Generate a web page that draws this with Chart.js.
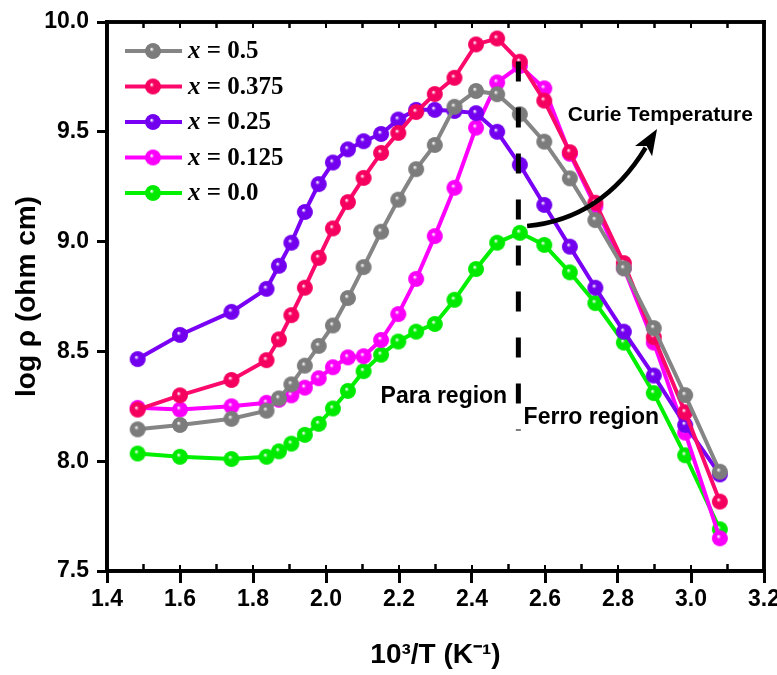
<!DOCTYPE html>
<html><head><meta charset="utf-8">
<script src="https://cdn.jsdelivr.net/npm/chart.js@4/dist/chart.umd.min.js"></script>
<style>html,body{margin:0;padding:0;background:#fff;}#wrap{position:relative;width:777px;height:675px}canvas{display:block}#ov{position:absolute;left:0;top:0;pointer-events:none}</style>
</head><body>
<div id="wrap">
<canvas id="c" width="777" height="675"></canvas>
<canvas id="ov" width="777" height="675"></canvas>
</div>
<script>
// 10^3/T values (K^-1)
const invT = [1.484, 1.600, 1.741, 1.837, 1.871, 1.905, 1.942, 1.980, 2.019, 2.060, 2.103, 2.151, 2.198, 2.247, 2.298, 2.352, 2.411, 2.469, 2.531, 2.598, 2.668, 2.738, 2.816, 2.898, 2.984, 3.079];
// log rho series
const rho_x050  = [8.145, 8.165, 8.193, 8.230, 8.286, 8.350, 8.435, 8.525, 8.618, 8.743, 8.884, 9.045, 9.191, 9.330, 9.440, 9.614, 9.686, 9.671, 9.580, 9.455, 9.288, 9.098, 8.878, 8.606, 8.301, 7.952];
const rho_x0375 = [8.235, 8.300, 8.370, 8.460, 8.555, 8.665, 8.790, 8.926, 9.060, 9.180, 9.290, 9.404, 9.495, 9.590, 9.672, 9.746, 9.898, 9.925, 9.819, 9.642, 9.407, 9.177, 8.902, 8.565, 8.223, 7.816];
const rho_x025  = [8.465, 8.575, 8.680, 8.785, 8.890, 8.995, 9.135, 9.262, 9.360, 9.420, 9.457, 9.490, 9.556, 9.600, 9.600, 9.595, 9.585, 9.500, 9.350, 9.167, 8.977, 8.790, 8.590, 8.390, 8.165, 7.940];
const rho_x0125 = [8.243, 8.235, 8.250, 8.266, 8.280, 8.300, 8.335, 8.378, 8.428, 8.473, 8.478, 8.552, 8.670, 8.830, 9.025, 9.245, 9.519, 9.725, 9.800, 9.698, 9.400, 9.160, 8.880, 8.540, 8.130, 7.649];
const rho_x000  = [8.035, 8.020, 8.010, 8.020, 8.045, 8.080, 8.120, 8.170, 8.240, 8.320, 8.410, 8.485, 8.545, 8.590, 8.625, 8.735, 8.875, 8.995, 9.040, 8.985, 8.860, 8.720, 8.540, 8.310, 8.027, 7.690];
const seriesNames = ['0.5', '0.375', '0.25', '0.125', '0.0'];
const xTicks = [1.4, 1.6, 1.8, 2.0, 2.2, 2.4, 2.6, 2.8, 3.0, 3.2];
const yTicks = [7.5, 8.0, 8.5, 9.0, 9.5, 10.0];
const curieX = 2.527;

const allSeries = [rho_x050, rho_x0375, rho_x025, rho_x0125, rho_x000];
const lineColors = ['#858585', '#fb0a6c', '#7a00f5', '#ff00ff', '#00f000'];
const baseColors = ['#7c7c7c', '#f5005f', '#7200ee', '#fa00fa', '#00ea00'];

function sphere(color) {
  const r = 7.8, s = 18;
  const cv = document.createElement('canvas');
  cv.width = s; cv.height = s;
  const g = cv.getContext('2d');
  const cx = s / 2, cy = s / 2;
  const grad = g.createRadialGradient(cx - 1.5, cy - 2, 0.3, cx, cy, r);
  grad.addColorStop(0, '#ffffff');
  grad.addColorStop(0.28, color + 'cc');
  grad.addColorStop(0.55, color);
  grad.addColorStop(1, color);
  g.fillStyle = color;
  g.beginPath(); g.arc(cx, cy, r, 0, Math.PI * 2); g.fill();
  g.fillStyle = grad;
  g.beginPath(); g.arc(cx, cy, r, 0, Math.PI * 2); g.fill();
  return cv;
}
const markers = baseColors.map(sphere);

const datasets = allSeries.map((arr, i) => ({
  label: 'x = ' + seriesNames[i],
  data: arr.map((v, k) => ({x: invT[k], y: v})),
  borderColor: lineColors[i],
  borderWidth: 4,
  pointStyle: markers[i],
  pointRadius: 7.8,
  tension: 0,
  fill: false
}));

const FONT = "'Liberation Sans', Arial, sans-serif";
const SERIF = "'Liberation Serif', 'Times New Roman', serif";

function seg(ctx, x1, y1, x2, y2) {
  ctx.beginPath(); ctx.moveTo(x1, y1); ctx.lineTo(x2, y2); ctx.stroke();
}

function drawFrame(ctx, x, y) {
  const L0 = x.getPixelForValue(1.4), R0 = x.getPixelForValue(3.2);
  const T0 = y.getPixelForValue(10.0), B0 = y.getPixelForValue(7.5);
  ctx.save();
  ctx.fillStyle = '#000000';
  const fw = 3.5;
  ctx.fillRect(L0 - fw / 2, T0 - fw / 2, R0 - L0 + fw, fw);
  ctx.fillRect(L0 - fw / 2, B0 - fw / 2, R0 - L0 + fw, fw);
  ctx.fillRect(L0 - fw / 2, T0 - fw / 2, fw, B0 - T0 + fw);
  ctx.fillRect(R0 - fw / 2, T0 - fw / 2, fw, B0 - T0 + fw);
  for (let i = 0; i < xTicks.length; i++) {
    const px = x.getPixelForValue(xTicks[i]);
    ctx.fillRect(px - 1, T0, 2, 6);
    ctx.fillRect(px - 1, B0 - 6, 2, 6);
    if (i < xTicks.length - 1) {
      const p2 = x.getPixelForValue((xTicks[i] + xTicks[i + 1]) / 2);
      ctx.fillRect(p2 - 1, T0, 2, 6);
      ctx.fillRect(p2 - 1, B0 - 7, 2, 7);
    }
  }
  ctx.restore();
}

const decor = {
  id: 'decor',
  afterDatasetsDraw(chart) {
    const ctx = chart.ctx, x = chart.scales.x, y = chart.scales.y;
    ctx.save();
    ctx.strokeStyle = '#000000';
    ctx.fillStyle = '#000000';
    // dashed Curie line
    ctx.lineWidth = 5;
    ctx.setLineDash([20, 26]);
    seg(ctx, x.getPixelForValue(curieX), y.getPixelForValue(9.82), x.getPixelForValue(curieX), y.getPixelForValue(8.14));
    ctx.setLineDash([]);
    // arrow
    const p0 = [x.getPixelForValue(2.551), y.getPixelForValue(9.071)];
    const c1 = [x.getPixelForValue(2.757), y.getPixelForValue(9.103)];
    const tip = [x.getPixelForValue(2.907), y.getPixelForValue(9.513)];
    let dx = tip[0] - c1[0], dy = tip[1] - c1[1];
    const L = Math.hypot(dx, dy); dx /= L; dy /= L;
    const hl = 26, hw = 10;
    const base = [tip[0] - hl * dx, tip[1] - hl * dy];
    ctx.lineWidth = 4.5;
    ctx.beginPath();
    ctx.moveTo(p0[0], p0[1]);
    ctx.quadraticCurveTo(c1[0], c1[1], base[0] + 4 * dx, base[1] + 4 * dy);
    ctx.stroke();
    ctx.beginPath();
    ctx.moveTo(tip[0], tip[1]);
    ctx.lineTo(base[0] - hw * dy, base[1] + hw * dx);
    ctx.lineTo(base[0] + 6 * dx, base[1] + 6 * dy);
    ctx.lineTo(base[0] + hw * dy, base[1] - hw * dx);
    ctx.closePath();
    ctx.fill();
    // texts
    ctx.textAlign = 'center';
    ctx.textBaseline = 'middle';
    ctx.font = 'bold 21px ' + FONT;
    ctx.fillText('Curie Temperature', x.getPixelForValue(2.916), y.getPixelForValue(9.577));
    ctx.font = 'bold 23px ' + FONT;
    ctx.fillText('Para region', x.getPixelForValue(2.323), y.getPixelForValue(8.292));
    ctx.fillText('Ferro region', x.getPixelForValue(2.727), y.getPixelForValue(8.197));
    // legend
    const rows = [51, 86.5, 122, 157.5, 193];
    for (let i = 0; i < chart.data.datasets.length; i++) {
      const yy = rows[i];
      ctx.strokeStyle = lineColors[i];
      ctx.lineWidth = 4;
      seg(ctx, 125, yy, 182, yy);
      ctx.drawImage(markers[i], 153 - markers[i].width / 2, yy - markers[i].height / 2);
      ctx.fillStyle = '#000';
      ctx.textAlign = 'left';
      ctx.textBaseline = 'middle';
      ctx.font = 'italic bold 25px ' + SERIF;
      ctx.fillText('x', 188, yy + 1);
      const w = ctx.measureText('x').width;
      ctx.font = 'bold 25px ' + SERIF;
      ctx.fillText(' = ' + seriesNames[i], 188 + w, yy + 1);
    }
    ctx.restore();
  },
  afterDraw(chart) {
    drawFrame(chart.ctx, chart.scales.x, chart.scales.y);
  }
};

const chart = new Chart(document.getElementById('c'), {
  type: 'line',
  data: {datasets},
  plugins: [decor],
  options: {
    responsive: false,
    animation: false,
    devicePixelRatio: 1,
    layout: {padding: {left: 0, right: 13, top: 22, bottom: 0}},
    plugins: {legend: {display: false}, tooltip: {enabled: false}},
    scales: {
      x: {
        type: 'linear', min: 1.4, max: 3.2,
        afterBuildTicks: s => { s.ticks = xTicks.map(v => ({value: v})); },
        afterFit: s => { s.height = 104; s.paddingLeft = 0; s.paddingRight = 0; },
        ticks: {callback: v => Number(v).toFixed(1), color: '#000', font: {family: FONT, size: 23, weight: 'bold'}, padding: 3, maxRotation: 0},
        grid: {display: true, drawOnChartArea: false, drawTicks: true, tickLength: 12, tickWidth: 3, tickColor: '#000'},
        border: {display: true, color: '#000', width: 3.5},
        title: {display: true, text: '10³/T (K⁻¹)', color: '#000', font: {family: FONT, size: 28, weight: 'bold'}, padding: {top: 0, bottom: 3}}
      },
      y: {
        type: 'linear', min: 7.5, max: 10.0,
        afterBuildTicks: s => { s.ticks = yTicks.map(v => ({value: v})); },
        afterFit: s => { s.width = 107; },
        ticks: {callback: v => Number(v).toFixed(1), color: '#000', font: {family: FONT, size: 23, weight: 'bold'}, padding: 8},
        grid: {display: true, drawOnChartArea: false, drawTicks: true, tickLength: 10, tickWidth: 3, tickColor: '#000'},
        border: {display: true, color: '#000', width: 3.5},
        title: {display: true, text: 'log ρ (ohm cm)', color: '#000', font: {family: FONT, size: 28, weight: 'bold'}, padding: {top: 10, bottom: 0}}
      }
    }
  }
});
// overlay frame
drawFrame(document.getElementById('ov').getContext('2d'), chart.scales.x, chart.scales.y);
</script>
</body></html>
